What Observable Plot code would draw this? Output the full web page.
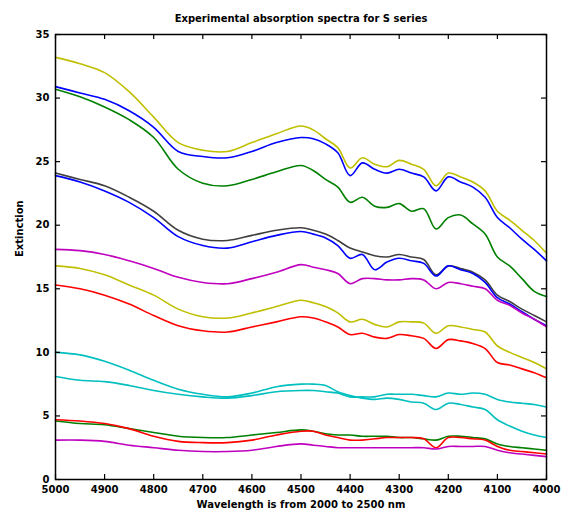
<!DOCTYPE html>
<html>
<head>
<meta charset="utf-8">
<script src="https://cdn.jsdelivr.net/npm/d3@7"></script>
<script src="https://cdn.jsdelivr.net/npm/@observablehq/plot@0.6"></script>
<style>
  html, body { margin: 0; padding: 0; background: #fff; }
  #chart { width: 564px; height: 517px; }
</style>
</head>
<body>
<div id="chart"></div>
<script>
const title = "Experimental absorption spectra for S series";
const xLabel = "Wavelength is from 2000 to 2500 nm";
const yLabel = "Extinction";
const xTicks = [5000, 4900, 4800, 4700, 4600, 4500, 4400, 4300, 4200, 4100, 4000];
const yTicks = [0, 5, 10, 15, 20, 25, 30, 35];

const wavenumber = [5000,4950,4900,4850,4800,4750,4700,4650,4600,4550,4500,4475,4450,4425,4400,4375,4350,4325,4300,4275,4250,4225,4200,4175,4150,4125,4100,4075,4050,4025,4000];

const yellow1  = [33.2,32.7,32.0,30.5,28.5,26.5,25.9,25.8,26.5,27.2,27.8,27.5,26.8,26.1,24.5,25.3,24.8,24.6,25.1,24.8,24.4,23.1,24.1,23.8,23.4,22.7,21.1,20.4,19.6,18.8,17.8];
const blue1    = [30.9,30.4,29.9,29.0,27.7,25.8,25.4,25.3,25.8,26.5,26.9,26.8,26.4,25.7,23.9,24.9,24.4,24.1,24.4,24.1,23.8,22.7,23.8,23.4,23.0,22.2,20.6,19.8,18.9,18.1,17.2];
const green1   = [30.7,30.1,29.3,28.3,26.9,24.4,23.3,23.1,23.6,24.2,24.7,24.3,23.6,23.0,21.8,22.2,21.5,21.4,21.7,21.1,21.3,19.7,20.6,20.8,20.1,19.3,17.5,16.8,15.8,14.8,14.4];
const gray1    = [24.1,23.6,23.1,22.2,21.1,19.6,18.9,18.8,19.2,19.6,19.8,19.6,19.3,18.8,18.2,17.9,17.6,17.5,17.7,17.5,17.3,16.1,16.8,16.6,16.3,15.7,14.5,14.0,13.4,12.9,12.4];
const blue2    = [23.9,23.4,22.7,21.8,20.6,19.1,18.4,18.2,18.7,19.2,19.5,19.3,19.0,18.4,17.4,17.7,16.5,17.1,17.4,17.2,17.0,16.0,16.8,16.5,16.2,15.5,14.3,13.8,13.2,12.6,12.1];
const magenta1 = [18.1,18.0,17.7,17.2,16.6,15.9,15.5,15.4,15.8,16.3,16.9,16.7,16.5,16.2,15.4,15.8,15.8,15.7,15.7,15.8,15.7,15.0,15.5,15.4,15.2,15.0,14.1,13.7,13.1,12.6,12.0];
const yellow2  = [16.8,16.6,16.1,15.3,14.5,13.4,12.8,12.7,13.1,13.6,14.1,13.9,13.6,13.1,12.4,12.6,12.2,12.0,12.4,12.4,12.3,11.5,12.1,12.0,11.8,11.6,10.5,10.0,9.6,9.2,8.7];
const red1     = [15.3,15.0,14.5,13.8,12.9,12.1,11.7,11.6,12.0,12.4,12.8,12.7,12.4,12.0,11.4,11.5,11.2,11.1,11.4,11.3,11.1,10.3,11.0,10.9,10.7,10.3,9.2,9.0,8.7,8.4,8.0];
const cyan1    = [10.0,9.8,9.3,8.6,7.8,7.1,6.7,6.5,6.8,7.3,7.5,7.5,7.4,6.9,6.6,6.4,6.3,6.4,6.3,6.1,6.0,5.5,6.0,5.9,5.7,5.5,4.7,4.2,3.8,3.5,3.3];
const cyan2    = [8.1,7.8,7.7,7.4,7.0,6.7,6.5,6.4,6.6,6.9,7.0,7.0,6.9,6.8,6.5,6.5,6.5,6.7,6.7,6.7,6.6,6.5,6.8,6.7,6.8,6.7,6.3,6.1,6.0,5.9,5.7];
const green2   = [4.6,4.4,4.3,4.0,3.7,3.4,3.3,3.3,3.5,3.7,3.9,3.8,3.6,3.5,3.5,3.4,3.4,3.4,3.3,3.3,3.2,3.1,3.4,3.4,3.3,3.2,2.8,2.6,2.5,2.4,2.3];
const red2     = [4.7,4.6,4.4,4.0,3.4,3.0,2.9,2.9,3.1,3.5,3.8,3.8,3.5,3.3,3.1,3.1,3.2,3.3,3.3,3.3,3.2,2.5,3.3,3.3,3.2,3.1,2.6,2.3,2.2,2.1,2.0];
const magenta2 = [3.1,3.1,3.0,2.7,2.5,2.3,2.2,2.2,2.3,2.6,2.8,2.7,2.6,2.5,2.5,2.5,2.5,2.5,2.5,2.5,2.5,2.4,2.6,2.6,2.6,2.6,2.3,2.1,2.0,1.9,1.8];

const seriesNames = ["yellow1","blue1","green1","gray1","blue2","magenta1","yellow2","red1","cyan1","cyan2","green2","red2","magenta2"];
const seriesValues = [yellow1,blue1,green1,gray1,blue2,magenta1,yellow2,red1,cyan1,cyan2,green2,red2,magenta2];
const seriesColors = ["#bfbf00","#0000ff","#008000","#404040","#0000ff","#bf00bf","#bfbf00","#ff0000","#00bfbf","#00bfbf","#008000","#ff0000","#bf00bf"];

const rows = [];
seriesNames.forEach((name, i) => {
  seriesValues[i].forEach((v, j) => rows.push({series: name, x: wavenumber[j], y: v}));
});

const font = "'DejaVu Sans', sans-serif";

const chart = Plot.plot({
  width: 564,
  height: 517,
  marginLeft: 55,
  marginRight: 18,
  marginTop: 34,
  marginBottom: 38,
  style: {fontFamily: font, fontSize: "10px", fontWeight: "bold", background: "#fff", color: "#000"},
  x: {domain: [5000, 4000]},
  y: {domain: [0, 35]},
  color: {domain: seriesNames, range: seriesColors},
  marks: [
    Plot.line(rows, {x: "x", y: "y", z: "series", stroke: "series", strokeWidth: 1.6, curve: "catmull-rom"}),
    Plot.frame({stroke: "#000", strokeWidth: 1.5}),
    // inward ticks on all four sides
    Plot.tickX(xTicks, {x: d => d, insetTop: 440, stroke: "#000", strokeWidth: 1.2}),
    Plot.tickX(xTicks, {x: d => d, insetBottom: 440, stroke: "#000", strokeWidth: 1.2}),
    Plot.tickY(yTicks, {y: d => d, insetRight: 486, stroke: "#000", strokeWidth: 1.2}),
    Plot.tickY(yTicks, {y: d => d, insetLeft: 486, stroke: "#000", strokeWidth: 1.2}),
    Plot.axisX(xTicks, {anchor: "bottom", tickSize: 0, tickPadding: 6, label: null, tickFormat: d => String(d)}),
    Plot.axisY(yTicks, {anchor: "left", tickSize: 0, tickPadding: 6, label: null, tickFormat: d => String(d)}),
    Plot.text([title], {frameAnchor: "top", dy: -20, text: d => d, fontSize: 10, fontWeight: "bold"}),
    Plot.text([xLabel], {frameAnchor: "bottom", dy: 28, text: d => d, fontSize: 10, fontWeight: "bold"}),
    Plot.text([yLabel], {frameAnchor: "left", dx: -36, rotate: -90, text: d => d, fontSize: 10, fontWeight: "bold"})
  ]
});
document.getElementById("chart").appendChild(chart);
</script>
</body>
</html>
